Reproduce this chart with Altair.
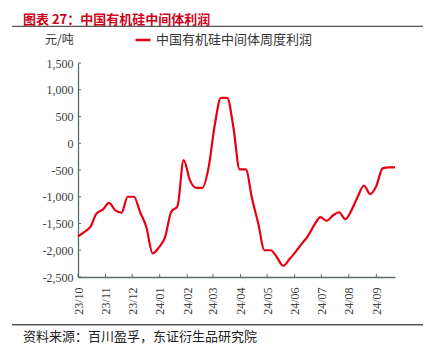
import altair as alt
import pandas as pd

# ---------------- data ----------------
dates = [
    "2023-10-01", "2023-10-08", "2023-10-15", "2023-10-22", "2023-10-29",
    "2023-11-05", "2023-11-12", "2023-11-19", "2023-11-26", "2023-12-03",
    "2023-12-10", "2023-12-17", "2023-12-24", "2023-12-31", "2024-01-07",
    "2024-01-14", "2024-01-21", "2024-01-28", "2024-02-04", "2024-02-11",
    "2024-02-18", "2024-02-25", "2024-03-03", "2024-03-10", "2024-03-17",
    "2024-03-24", "2024-03-31", "2024-04-07", "2024-04-14", "2024-04-21",
    "2024-04-28", "2024-05-05", "2024-05-12", "2024-05-19", "2024-05-26",
    "2024-06-02", "2024-06-09", "2024-06-16", "2024-06-23", "2024-06-30",
    "2024-07-07", "2024-07-14", "2024-07-21", "2024-07-28", "2024-08-04",
    "2024-08-11", "2024-08-18", "2024-08-25", "2024-09-01", "2024-09-08",
    "2024-09-15", "2024-09-22",
]
profit = [
    -1740, -1660, -1560, -1310, -1240,
    -1115, -1255, -1295, -1000, -1000,
    -1290, -1570, -2060, -1950, -1760,
    -1280, -1180, -316, -690, -834,
    -834, -460, 340, 850, 850,
    300, -490, -490, -1033, -1500,
    -2000, -2000, -2130, -2290, -2170,
    -2030, -1880, -1730, -1530, -1380,
    -1450, -1350, -1290, -1420, -1250,
    -1000, -790, -950, -800, -470,
    -450, -450,
]
month_ticks = [
    "2023-10-01", "2023-11-01", "2023-12-01", "2024-01-01", "2024-02-01",
    "2024-03-01", "2024-04-01", "2024-05-01", "2024-06-01", "2024-07-01",
    "2024-08-01", "2024-09-01",
]
y_ticks = [-2500, -2000, -1500, -1000, -500, 0, 500, 1000, 1500]

SERIES = "中国有机硅中间体周度利润"
TITLE = "图表 27：中国有机硅中间体利润"
UNIT = "元/吨"
SOURCE = "资料来源：百川盈孚，东证衍生品研究院"

df = pd.DataFrame({"date": dates, "profit": profit, "series": SERIES})
df_mt = pd.DataFrame({"date": month_ticks})
df_yt = pd.DataFrame({"profit": y_ticks})

W, H = 317, 214
AXIS_COL = "#5B6B6B"
LABEL_COL = "#404040"
RED = "#E60012"
CJK = "Noto Sans CJK SC"

def dt(s):
    y, m, d = (int(p) for p in s.split("-"))
    return alt.DateTime(year=y, month=m, date=d, utc=True)

x_scale = alt.Scale(type="utc", domain=[dt(dates[0]), dt(dates[-1])], nice=False)
y_scale = alt.Scale(domain=[-2500, 1500], nice=False, zero=False)

x_axis = alt.Axis(
    values=[dt(s) for s in month_ticks], format="%y/%m", labelAngle=270,
    ticks=False, tickSize=0, labelPadding=10, grid=False, labelOverlap=False,
    domainColor=AXIS_COL, domainWidth=1.3,
    labelFont="Liberation Serif", labelFontSize=12, labelColor=LABEL_COL,
    title=None,
)
y_axis = alt.Axis(
    values=y_ticks,
    labelExpr="(datum.value < 0 ? '-' : '') + format(abs(datum.value), ',')",
    ticks=False, tickSize=0, labelPadding=5, grid=False, labelOverlap=False,
    domainColor=AXIS_COL, domainWidth=1.3,
    labelFont="Liberation Serif", labelFontSize=12, labelColor=LABEL_COL,
    title=None,
)

X = alt.X("date:T", timeUnit="utcyearmonthdate", scale=x_scale, axis=x_axis)
Y = alt.Y("profit:Q", scale=y_scale, axis=y_axis)

line = alt.Chart(df).mark_line(interpolate="monotone", strokeWidth=2.2).encode(
    x=X,
    y=Y,
    color=alt.Color(
        "series:N",
        scale=alt.Scale(range=[RED]),
        legend=alt.Legend(
            title=None, orient="none", legendX=56, legendY=-32, padding=0,
            symbolType="stroke", symbolStrokeWidth=2.5, symbolSize=225,
            labelFont=CJK, labelFontSize=13, labelColor="#333333", labelOffset=4,
        ),
    ),
)

xt = alt.Chart(df_mt).mark_rule(color=AXIS_COL, strokeWidth=1).encode(
    x=X, y=alt.value(H), y2=alt.value(H - 3),
)
yt = alt.Chart(df_yt).mark_rule(color=AXIS_COL, strokeWidth=1).encode(
    y=Y, x=alt.value(0), x2=alt.value(3),
)

title = alt.Chart(pd.DataFrame({"t": [TITLE]})).mark_text(
    align="left", baseline="alphabetic", font=CJK, fontSize=13, fontWeight="bold", color="#D0021B"
).encode(text="t:N", x=alt.value(-55), y=alt.value(-39.2))

unit = alt.Chart(pd.DataFrame({"t": [UNIT]})).mark_text(
    align="left", baseline="middle", font=CJK, fontSize=12, color="#333333"
).encode(text="t:N", x=alt.value(-33), y=alt.value(-23))

source = alt.Chart(pd.DataFrame({"t": [SOURCE]})).mark_text(
    align="left", baseline="middle", font=CJK, fontSize=13, color="#222222"
).encode(text="t:N", x=alt.value(-55), y=alt.value(273.5))

top_rule = alt.Chart(pd.DataFrame({"k": [0]})).mark_rule(color="#555555", strokeWidth=1.2).encode(
    x=alt.value(-66), x2=alt.value(345), y=alt.value(-36.7)
)
bottom_rule = alt.Chart(pd.DataFrame({"k": [0]})).mark_rule(color="#555555", strokeWidth=1.5).encode(
    x=alt.value(-66), x2=alt.value(345), y=alt.value(261.7)
)

chart = alt.layer(line, xt, yt, title, unit, source, top_rule, bottom_rule).properties(
    width=W, height=H,
    padding={"left": 70, "top": 55, "right": 28, "bottom": 70},
    autosize=alt.AutoSizeParams(type="none"),
).configure_view(stroke=None).configure_axis(labelOverlap=False)

chart.save("out.html", embed_options={"renderer": "svg", "actions": False})
